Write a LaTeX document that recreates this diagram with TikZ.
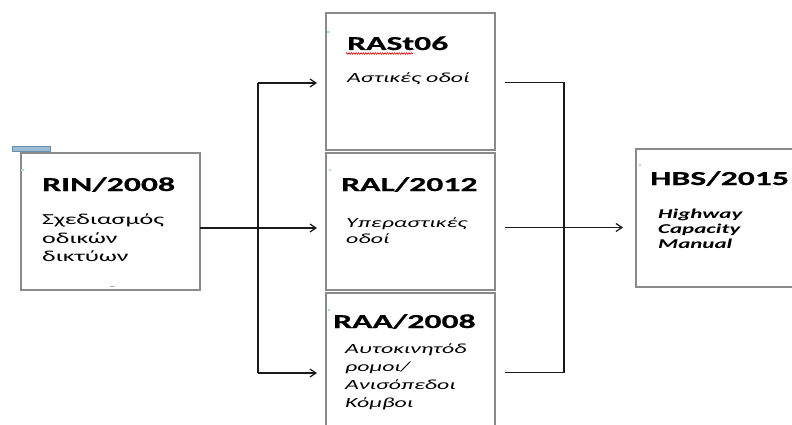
\documentclass[tikz,border=0pt]{standalone}
\usepackage{fontspec}
\setmainfont{Carlito}
\newfontfamily\widefont[FakeStretch=1.7]{Carlito}
\newfontfamily\titlefont[FakeStretch=1.7,FakeBold=0.6,BoldFont={Carlito Bold}]{Carlito}
\usetikzlibrary{arrows.meta,decorations.pathmorphing}
\definecolor{boxgray}{HTML}{8A8A8A}
\definecolor{linegray}{HTML}{1A1A1A}
\definecolor{barfill}{HTML}{9DBAD3}
\definecolor{barline}{HTML}{6D8FAE}
\definecolor{dotblue}{HTML}{A8DCEA}
\newcommand{\lines}[1]{\begin{tabular}[t]{@{}l@{}}#1\end{tabular}}
\begin{document}
\begin{tikzpicture}[x=1pt,y=-1pt,
  box/.style={draw=boxgray, line width=1.6pt, inner sep=0pt, outer sep=0pt, fill=white},
  conn/.style={line width=1.3pt, draw=linegray},
  tip/.style={-{Straight Barb[length=6pt,width=8pt,line width=1.2pt]}},
  title/.style={anchor=base west, inner sep=0pt, font=\titlefont\bfseries\fontsize{19.8}{23}\selectfont},
  body/.style={anchor=base west, inner sep=0pt, font=\widefont\fontsize{15.3}{18.5}\selectfont},
  ibody/.style={anchor=base west, inner sep=0pt, font=\widefont\itshape\fontsize{14}{18}\selectfont},
  bibody/.style={anchor=base west, inner sep=0pt, font=\widefont\bfseries\itshape\fontsize{13.5}{15}\selectfont},
  anchordot/.style={fill=dotblue, draw=none, minimum size=2.5pt, inner sep=0pt}]
\useasboundingbox (0,0) rectangle (792,425);
\clip (0,0) rectangle (792,425);
\fill[white] (0,0) rectangle (792,425);

% boxes
\node[box, minimum width=179pt, minimum height=137pt] (rin) at (110.5,221.5) {};
\node[box, minimum width=169pt, minimum height=137pt] (rast) at (410.5,81.5) {};
\node[box, minimum width=169pt, minimum height=137pt] (ral) at (410.5,221.5) {};
\node[box, minimum width=169pt, minimum height=152pt] (raa) at (410.5,369) {};
\node[box, minimum width=174pt, minimum height=138pt] (hbs) at (723,218) {};

% blue bar on top of RIN
\node[draw=barline, fill=barfill, line width=0.8pt, minimum width=38pt, minimum height=5pt, inner sep=0pt] (bar) at (31.5,149) {};
\node[draw=boxgray!70, line width=0.8pt, minimum width=5pt, minimum height=0pt, inner sep=0pt] (dash) at (112.5,286.5) {};

% small anchor marks
\node[anchordot] (m1) at (22.5,170) {};
\node[anchordot] (m2) at (328.5,32) {};
\node[anchordot] (m3) at (330,170) {};
\node[anchordot] (m4) at (329,310) {};
\node[anchordot] (m5) at (640,165) {};

% texts
\node[title] (t1) at (42,191) {RIN/2008};
\node[body] (b1) at (42,224.5) {\lines{Σχεδιασμός\\οδικών\\δικτύων}};
\node[title] (t2) at (347,50) {RASt06};
\node[ibody] (b2) at (347,83) {Αστικές οδοί};
\node[title] (t3) at (341,191) {RAL/2012};
\node[ibody, font=\widefont\itshape\fontsize{14}{16}\selectfont] (b3) at (346,227) {\lines{Υπεραστικές\\οδοί}};
\node[title] (t4) at (333,328) {RAA/2008};
\node[ibody] (b4) at (345,353) {\lines{Αυτοκινητόδ\\ρομοι/\\Ανισόπεδοι\\Κόμβοι}};
\node[title] (t5) at (650,185) {HBS/2015};
\node[bibody] (b5) at (658,218) {\lines{Highway\\Capacity\\Manual}};

% red spell-check underline
\coordinate (u1) at (346,53.5);
\coordinate (u2) at (413,53.5);
\draw[red!85!black, line width=0.6pt, decorate, decoration={zigzag, segment length=2.4pt, amplitude=0.8pt}] (u1) -- (u2);

% left connectors
\coordinate (lj) at (258,228);
\draw[conn, tip, shorten >=9pt] (rin.east |- lj) -- (ral.west |- lj);
\draw[conn, tip, shorten >=9pt] (lj |- 0,83) -- (rast.west |- 0,83);
\draw[conn, tip, shorten >=9pt] (lj |- 0,373) -- (raa.west |- 0,373);
\draw[conn] (lj |- 0,83) -- (lj |- 0,373);

% right connectors
\coordinate (rj) at (564,227.5);
\draw[conn, shorten <=10pt, shorten >=10pt] (rast.east |- 0,82.5) -- (rj |- 0,82.5) -- (rj |- 0,372.5) -- (raa.east |- 0,372.5);
\draw[conn, tip, shorten <=10pt, shorten >=13pt] (ral.east |- rj) -- (hbs.west |- rj);
\end{tikzpicture}
\end{document}
